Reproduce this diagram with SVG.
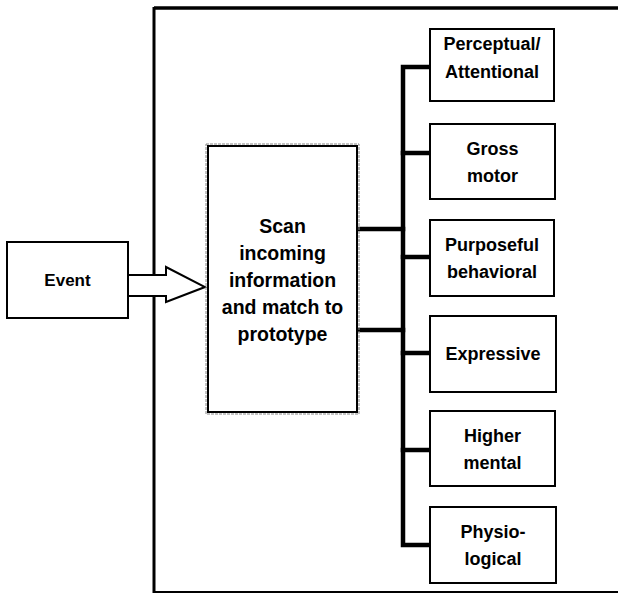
<svg xmlns="http://www.w3.org/2000/svg" width="618" height="601" viewBox="0 0 618 601">
<style>
.box{fill:#fff;stroke:#000;stroke-width:2}
.t{font-family:"Liberation Sans",Arial,sans-serif;font-weight:bold;text-anchor:middle;fill:#000}
.bus{fill:none;stroke:#000;stroke-width:4.5;stroke-linecap:square}
.frame{fill:none;stroke:#000}
</style>
<rect width="618" height="601" fill="#fff"/>
<g id="frame">
<line class="frame" x1="154" y1="8" x2="618" y2="8" stroke-width="3.5"/>
<line class="frame" x1="154" y1="7" x2="154" y2="593" stroke-width="3"/>
<line class="frame" x1="154" y1="592" x2="618" y2="592" stroke-width="2"/>
</g>
<g id="connectors">
<path class="bus" d="M429 67 H403 V545 H429"/>
<line class="bus" x1="403" y1="153" x2="429" y2="153"/>
<line class="bus" x1="403" y1="257" x2="429" y2="257"/>
<line class="bus" x1="403" y1="353" x2="429" y2="353"/>
<line class="bus" x1="403" y1="450" x2="429" y2="450"/>
<line class="bus" x1="359" y1="229" x2="403" y2="229"/>
<line class="bus" x1="359" y1="330" x2="403" y2="330"/>
<path d="M128 275 H166 V267 L205 287 L166 302 V296 H128 Z" fill="#fff" stroke="#000" stroke-width="2" stroke-linejoin="miter"/>
</g>
<g id="event">
<rect class="box" x="7" y="242" width="121" height="76"/>
<text class="t" x="67.5" y="286" font-size="17">Event</text>
</g>
<g id="scan">
<rect x="206" y="144" width="153" height="270" fill="none" stroke="#888" stroke-width="1" stroke-dasharray="3 1"/>
<rect class="box" x="208" y="146" width="149" height="266"/>
<text class="t" font-size="19.5"><tspan x="282.5" y="233">Scan</tspan><tspan x="282.5" y="260">incoming</tspan><tspan x="282.5" y="287">information</tspan><tspan x="282.5" y="314">and match to</tspan><tspan x="282.5" y="341">prototype</tspan></text>
</g>
<g id="perceptual">
<rect class="box" x="430" y="29" width="124" height="72"/>
<text class="t" font-size="18"><tspan x="492" y="50">Perceptual/</tspan><tspan x="492" y="78">Attentional</tspan></text>
</g>
<g id="gross">
<rect class="box" x="430" y="124" width="125" height="75"/>
<text class="t" font-size="18"><tspan x="492.5" y="155">Gross</tspan><tspan x="492.5" y="182">motor</tspan></text>
</g>
<g id="purposeful">
<rect class="box" x="430" y="220" width="124" height="76"/>
<text class="t" font-size="18"><tspan x="492" y="251">Purposeful</tspan><tspan x="492" y="278">behavioral</tspan></text>
</g>
<g id="expressive">
<rect class="box" x="430" y="316" width="126" height="76"/>
<text class="t" font-size="18" x="493" y="360">Expressive</text>
</g>
<g id="higher">
<rect class="box" x="430" y="411" width="125" height="75"/>
<text class="t" font-size="18"><tspan x="492.5" y="442">Higher</tspan><tspan x="492.5" y="469">mental</tspan></text>
</g>
<g id="physio">
<rect class="box" x="430" y="507" width="126" height="76"/>
<text class="t" font-size="18"><tspan x="493" y="538">Physio-</tspan><tspan x="493" y="565">logical</tspan></text>
</g>
</svg>
